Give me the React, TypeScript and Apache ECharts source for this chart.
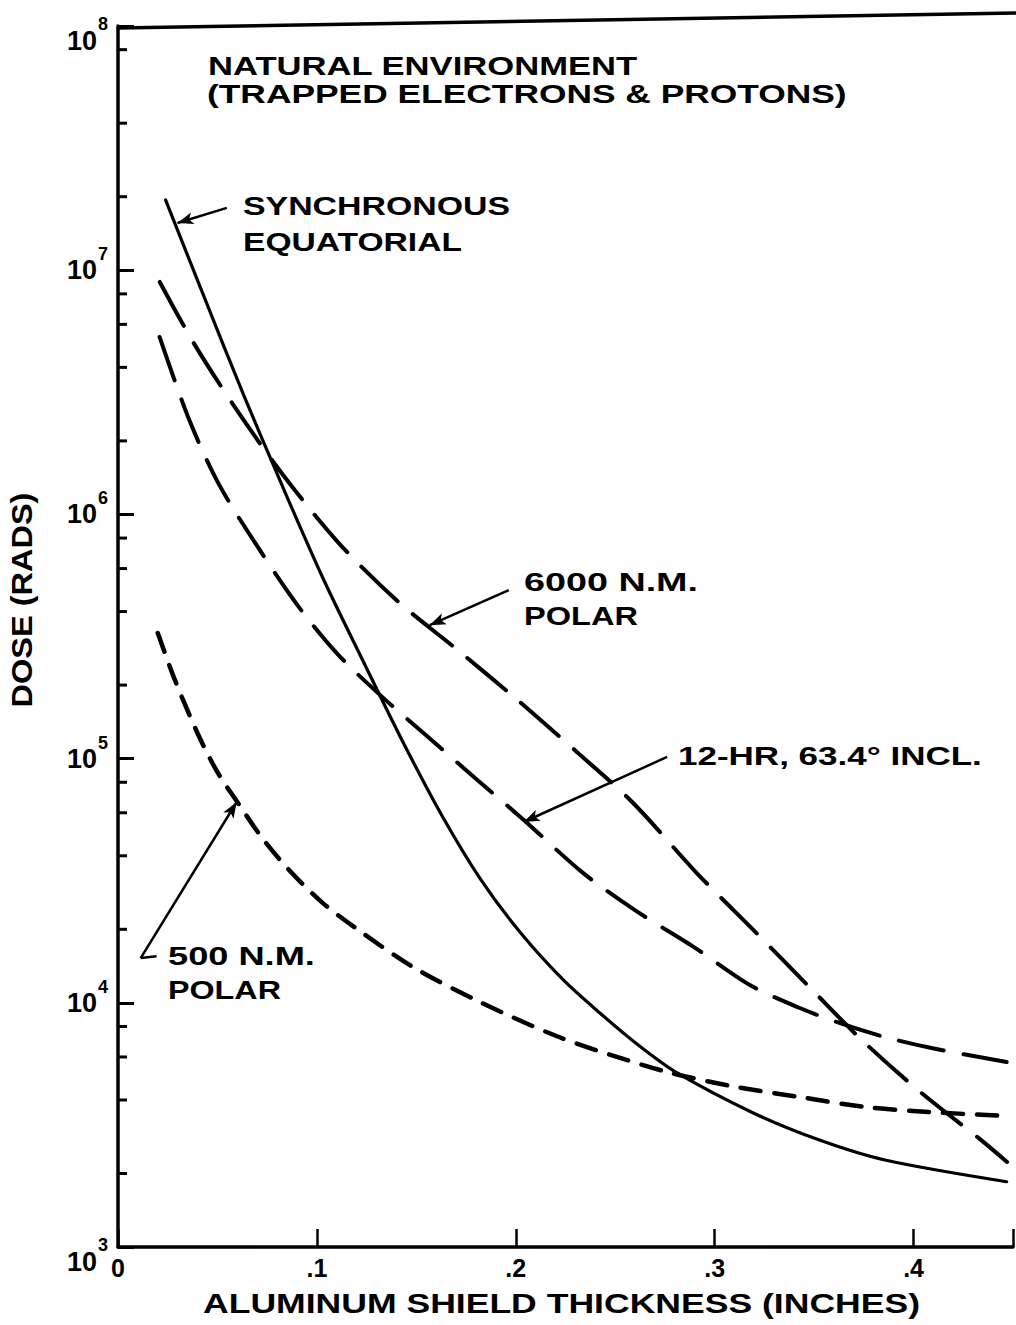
import React, { useEffect, useRef } from 'react';
import * as echarts from 'echarts';

const FONT = '"Liberation Sans", Arial, sans-serif';

// ---- axis ticks ----
const xTickValues = [0, 0.1, 0.2, 0.3, 0.4];
const xTickLabels = ['0', '.1', '.2', '.3', '.4'];
const yTickValues = [1e3, 1e4, 1e5, 1e6, 1e7, 1e8];
const yTickExponents = ['3', '4', '5', '6', '7', '8'];
const yMinorTickValues = [
  2e3, 4e3, 6e3, 8e3,
  2e4, 4e4, 6e4, 8e4,
  2e5, 4e5, 6e5, 8e5,
  2e6, 4e6, 6e6, 8e6,
  2e7, 4e7, 8e7,
];

// ---- curves: [shield thickness (in), dose (rads)] ----
const synchronousEquatorial: [number, number][] = [
  [0.0239, 1.94e7], [0.0433, 7.77e6], [0.0632, 3.08e6], [0.0831, 1.28e6],
  [0.103, 5.49e5], [0.1229, 2.54e5], [0.1428, 1.19e5], [0.1627, 5.88e4],
  [0.1826, 3.18e4], [0.2025, 1.93e4], [0.2239, 1.24e4], [0.2423, 9.08e3],
  [0.2622, 6.65e3], [0.2811, 5.16e3], [0.3194, 3.54e3], [0.3527, 2.74e3],
  [0.3856, 2.27e3], [0.4468, 1.85e3],
];
const polar6000: [number, number][] = [
  [0.021, 8.95e6], [0.038, 5.04e6], [0.059, 2.73e6], [0.083, 1.45e6],
  [0.111, 7.63e5], [0.141, 4.38e5], [0.169, 2.86e5], [0.199, 1.79e5],
  [0.231, 1.06e5], [0.259, 6.58e4], [0.291, 3.4e4], [0.321, 1.93e4],
  [0.349, 1.13e4], [0.374, 7.04e3], [0.404, 4.27e3], [0.434, 2.74e3],
  [0.447, 2.23e3],
];
const hr12Incl: [number, number][] = [
  [0.0209, 5.33e6], [0.0358, 2.44e6], [0.0507, 1.33e6], [0.0706, 7.29e5],
  [0.0905, 4.22e5], [0.1104, 2.68e5], [0.1328, 1.79e5], [0.1552, 1.24e5],
  [0.1801, 8.25e4], [0.204, 5.61e4], [0.2333, 3.43e4], [0.2597, 2.4e4],
  [0.2896, 1.69e4], [0.3179, 1.18e4], [0.3428, 9.52e3], [0.3642, 8.19e3],
  [0.3856, 7.24e3], [0.409, 6.53e3], [0.4468, 5.72e3],
];
const polar500: [number, number][] = [
  [0.02, 3.27e5], [0.028, 2.16e5], [0.04, 1.27e5], [0.05, 8.8e4],
  [0.06, 6.64e4], [0.073, 4.67e4], [0.086, 3.5e4], [0.103, 2.56e4],
  [0.123, 1.93e4], [0.149, 1.39e4], [0.183, 9.98e3], [0.2204, 7.31e3],
  [0.248, 6.11e3], [0.278, 5.16e3], [0.311, 4.52e3], [0.343, 4.11e3],
  [0.376, 3.74e3], [0.4075, 3.57e3], [0.447, 3.44e3],
];

const seriesNames = [
  'SYNCHRONOUS EQUATORIAL',
  '6000 N.M. POLAR',
  '12-HR, 63.4° INCL.',
  '500 N.M. POLAR',
];

// ---- annotation arrows (data coordinates: start -> point on curve) ----
const arrowSync: [number, number][] = [[0.0547, 1.8e7], [0.0299, 1.56e7]];
const arrow6000: [number, number][] = [[0.1965, 4.9e5], [0.1567, 3.52e5]];
const arrow12hr: [number, number][] = [[0.2761, 1.016e5], [0.204, 5.5e4]];
const arrow500: [number, number][] = [[0.0114, 1.525e4], [0.0597, 6.64e4]];
const hook500: [number, number][] = [[0.0114, 1.525e4], [0.0194, 1.55e4]];

// ---- annotation texts ----
const annotationTexts = [
  'NATURAL ENVIRONMENT',
  '(TRAPPED ELECTRONS & PROTONS)',
  'SYNCHRONOUS',
  'EQUATORIAL',
  '6000 N.M.',
  'POLAR',
  '12-HR, 63.4° INCL.',
  '500 N.M.',
  'POLAR',
];
const xAxisTitle = 'ALUMINUM SHIELD THICKNESS (INCHES)';
const yAxisTitle = 'DOSE (RADS)';

// layout of annotation texts: left x, cap-center y, target width (px)
const annotationLayout = [
  { left: 208, cy: 66, w: 430 },
  { left: 207, cy: 94, w: 640 },
  { left: 243, cy: 206, w: 267 },
  { left: 243, cy: 242, w: 219 },
  { left: 524, cy: 582, w: 174 },
  { left: 524, cy: 616, w: 114 },
  { left: 678, cy: 756, w: 304 },
  { left: 168, cy: 957, w: 147 },
  { left: 168, cy: 990, w: 113 },
];

function measure(text: string, size: number, weight: string): number {
  try {
    const ctx = document.createElement('canvas').getContext('2d');
    if (!ctx) return text.length * size * 0.65;
    ctx.font = `${weight} ${size}px "Liberation Sans"`;
    return ctx.measureText(text).width;
  } catch (e) {
    return text.length * size * 0.65;
  }
}

function stretchedText(text: string, x: number, y: number, width: number, size: number, weight: string, align: string, rotation = 0) {
  const w = measure(text, size, weight);
  const s = w > 0 ? width / w : 1;
  return {
    type: 'text',
    x,
    y,
    rotation,
    scaleX: s,
    scaleY: 1,
    silent: true,
    z: 100,
    style: {
      text,
      fill: '#000',
      fontSize: size,
      fontWeight: weight,
      fontFamily: FONT,
      align,
      verticalAlign: 'middle',
    },
  };
}

function arrowLine(pts: [number, number][], withHead: boolean) {
  return [
    { coord: pts[0], symbol: 'none' },
    { coord: pts[1], symbol: withHead ? 'arrow' : 'none' },
  ];
}

export default function App() {
  const ref = useRef<HTMLDivElement>(null);

  useEffect(() => {
    if (!ref.current) return;
    const chart = echarts.init(ref.current, null, { renderer: 'svg' });

    const curveStyle = (type: any, width: number) => ({
      color: '#000',
      width,
      type,
      cap: 'round',
    });

    const markLineBase = {
      silent: true,
      symbolSize: [9, 16],
      label: { show: false },
      lineStyle: { color: '#000', width: 2.5, type: 'solid' },
      animation: false,
    };

    const graphics: any[] = annotationTexts.map((t, i) =>
      stretchedText(t, annotationLayout[i].left, annotationLayout[i].cy, annotationLayout[i].w, 25, 'bold', 'left')
    );
    graphics.push(stretchedText(xAxisTitle, 203, 1303, 717, 28, 'bold', 'left'));
    graphics.push(stretchedText(yAxisTitle, 22, 600, 215, 29, 'bold', 'center', Math.PI / 2));
    graphics.push({
      type: 'line',
      silent: true,
      z: 50,
      shape: { x1: 118, y1: 28, x2: 1016, y2: 13 },
      style: { stroke: '#000', lineWidth: 3.5 },
    });

    const option: any = {
      animation: false,
      backgroundColor: '#fff',
      grid: { left: 118, top: 26, width: 904.5, height: 1221, containLabel: false },
      xAxis: {
        type: 'value',
        min: 0,
        max: 0.45,
        interval: 0.1,
        axisLine: { show: true, onZero: false, lineStyle: { color: '#000', width: 3.5 } },
        axisTick: { show: true, inside: true, length: 18, lineStyle: { color: '#000', width: 2.5 } },
        axisLabel: {
          color: '#000',
          fontSize: 25,
          fontWeight: 'bold',
          fontFamily: FONT,
          margin: 8,
          formatter: (v: number) => {
            const i = xTickValues.findIndex((t) => Math.abs(t - v) < 1e-9);
            return i >= 0 ? xTickLabels[i] : '';
          },
        },
        splitLine: { show: false },
      },
      yAxis: {
        type: 'log',
        logBase: 10,
        min: 1e3,
        max: 1e8,
        splitNumber: 5,
        axisLine: { show: true, onZero: false, lineStyle: { color: '#000', width: 3.5 } },
        axisTick: { show: true, inside: true, length: 16, lineStyle: { color: '#000', width: 3 } },
        axisLabel: {
          margin: 10,
          formatter: (v: number) => {
            const i = yTickValues.findIndex((t) => Math.abs(Math.log10(t) - Math.log10(v)) < 1e-6);
            if (i < 0) return '';
            const e = yTickExponents[i];
            if (e === '8' || e === '3') return `{bE|10}{sE|${e}}`;
            return `{b|10}{s|${e}}`;
          },
          rich: {
            b: { fontSize: 27, fontWeight: 'bold', fontFamily: FONT, color: '#000', lineHeight: 50 },
            s: { fontSize: 18, fontWeight: 'bold', fontFamily: FONT, color: '#000', lineHeight: 12, verticalAlign: 'top', padding: [0, 0, 0, 1] },
            bE: { fontSize: 27, fontWeight: 'bold', fontFamily: FONT, color: '#000', lineHeight: 25, verticalAlign: 'top', padding: [14, 0, 0, 0] },
            sE: { fontSize: 18, fontWeight: 'bold', fontFamily: FONT, color: '#000', lineHeight: 12, verticalAlign: 'top', padding: [1, 0, 0, 1] },
          },
        },
        splitLine: { show: false },
      },
      graphic: graphics,
      series: [
        {
          name: seriesNames[0],
          type: 'line',
          data: synchronousEquatorial,
          showSymbol: false,
          smooth: 0.3,
          lineStyle: curveStyle('solid', 3.2),
          markLine: { ...markLineBase, data: [arrowLine(arrowSync, true)] },
          z: 10,
        },
        {
          name: seriesNames[1],
          type: 'line',
          data: polar6000,
          showSymbol: false,
          smooth: 0.3,
          lineStyle: curveStyle([50, 20], 4),
          markLine: { ...markLineBase, data: [arrowLine(arrow6000, true)] },
          z: 10,
        },
        {
          name: seriesNames[2],
          type: 'line',
          data: hr12Incl,
          showSymbol: false,
          smooth: 0.3,
          lineStyle: curveStyle([46, 20], 4),
          markLine: { ...markLineBase, data: [arrowLine(arrow12hr, true)] },
          z: 10,
        },
        {
          name: seriesNames[3],
          type: 'line',
          data: polar500,
          showSymbol: false,
          smooth: 0.3,
          lineStyle: curveStyle([20, 14], 4.5),
          markLine: {
            ...markLineBase,
            data: [arrowLine(arrow500, true), arrowLine(hook500, false)],
          },
          z: 10,
        },
        {
          type: 'custom',
          name: 'minor ticks',
          silent: true,
          clip: false,
          z: 20,
          data: yMinorTickValues.map((v) => [0, v]),
          encode: { x: 0, y: 1 },
          renderItem: (params: any, api: any) => {
            const p = api.coord([0, api.value(1)]);
            return {
              type: 'line',
              shape: { x1: p[0], y1: p[1], x2: p[0] + 9, y2: p[1] },
              style: { stroke: '#000', lineWidth: 3 },
            };
          },
        },
      ],
    };

    chart.setOption(option);
    return () => chart.dispose();
  }, []);

  return (
    <div
      ref={ref}
      style={{ position: 'absolute', left: 0, top: 0, width: 1016, height: 1325, background: '#fff' }}
    />
  );
}
